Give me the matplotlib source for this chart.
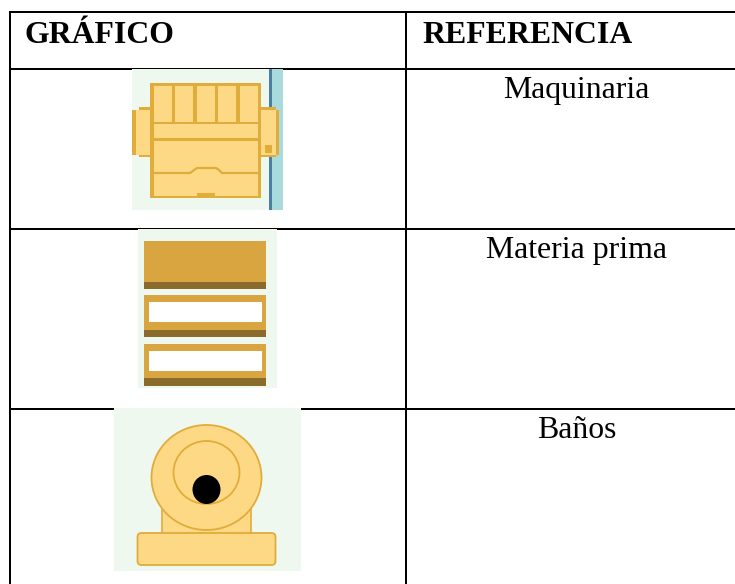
import matplotlib
matplotlib.use("Agg")
import matplotlib.pyplot as plt
from matplotlib.patches import Rectangle, Ellipse, FancyBboxPatch

headers = ["GRÁFICO", "REFERENCIA"]
references = ["Maquinaria", "Materia prima", "Baños"]
row_lines = [12, 68.7, 228.7, 408.7]
col_lines = [10, 405.8]
header_x = [25, 422]
header_baseline = 42.8
ref_x = 576.5
ref_baselines = [97.7, 257.7, 437.7]

BG = "#eff8ef"; FILL = "#fed985"; EDGE = "#e0ac3a"; TAN = "#d8a540"; DARK = "#8a6b2b"

fig = plt.figure(figsize=(7.35, 5.84), dpi=100)
ax = fig.add_axes([0, 0, 1, 1])
ax.set_xlim(0, 735); ax.set_ylim(584, 0); ax.axis("off")

def rect(x0, y0, x1, y1, fc, ec="none", lw=0, z=2):
    ax.add_patch(Rectangle((x0, y0), x1 - x0, y1 - y0, fc=fc, ec=ec, lw=lw, zorder=z))

# --- icon 1: maquinaria
rect(132, 69, 269, 210, BG, z=1)
rect(269, 69, 272, 210, "#4a7fa5", z=1)
rect(272, 69, 283, 210, "#a9dbdd", z=1)
rect(132, 110, 150, 155, EDGE)
rect(139, 107, 150, 157, EDGE)
rect(136, 110, 150, 155, FILL, z=3)
rect(261, 107, 276, 157, EDGE)
rect(276, 110, 279, 155, EDGE)
rect(261, 110, 276, 155, FILL, z=3)
rect(265, 145, 272, 153, EDGE, z=4)
rect(150, 83, 261, 198, EDGE)
rect(154, 86, 258, 196, FILL, z=3)
for x0, x1 in [(172, 175), (193, 197), (215, 218), (236, 240)]:
    rect(x0, 86, x1, 124, EDGE, z=4)
rect(154, 122, 258, 124, EDGE, z=4)
rect(154, 138, 258, 141, EDGE, z=4)
ax.plot([154, 190, 193, 194, 197, 216, 219, 222, 258],
        [173, 173, 171, 170, 168, 168, 170, 173, 173],
        color=EDGE, lw=1.6, zorder=4, solid_joinstyle="miter")
rect(197, 193, 215, 198, EDGE, z=4)

# --- icon 2: materia prima
rect(138, 229, 277, 388, BG, z=1)
rect(144.5, 240.5, 266, 282, TAN)
rect(144.5, 282, 266, 289, DARK)
rect(144.5, 295, 266, 330, TAN)
rect(144.5, 330, 266, 337, DARK)
rect(149, 302, 262, 322, "white", z=3)
rect(144.5, 343.5, 266, 378, TAN)
rect(144.5, 378, 266, 386, DARK)
rect(149, 351, 262, 371, "white", z=3)

# --- icon 3: baños
rect(114, 408, 301, 571, BG, z=1)
rect(162, 500, 251, 535, FILL, ec=EDGE, lw=1.2, z=2)
ax.add_patch(Ellipse((206.5, 477.5), 110, 105, fc=FILL, ec=EDGE, lw=1.3, zorder=3))
ax.add_patch(Ellipse((206.5, 472.5), 66, 63, fc=FILL, ec=EDGE, lw=1.3, zorder=4))
ax.add_patch(Ellipse((206.5, 489.5), 28, 29, fc="black", ec="none", zorder=5))
ax.add_patch(FancyBboxPatch((137.5, 533), 138, 32, boxstyle="round,pad=0,rounding_size=4",
                            fc=FILL, ec=EDGE, lw=1.3, zorder=6))

# --- table grid
for y in row_lines:
    ax.plot([9, 735], [y, y], color="black", lw=1.44, zorder=0.5, solid_capstyle="butt")
for x in col_lines:
    ax.plot([x, x], [11, 584], color="black", lw=1.44, zorder=0.5, solid_capstyle="butt")

font = dict(family="Liberation Serif", fontsize=22.9, color="black", zorder=8)
for x, t in zip(header_x, headers):
    ax.text(x, header_baseline, t, ha="left", va="baseline", fontweight="bold", **font)
for y, t in zip(ref_baselines, references):
    ax.text(ref_x, y, t, ha="center", va="baseline", **font)

fig.savefig("out.png", dpi=100)
